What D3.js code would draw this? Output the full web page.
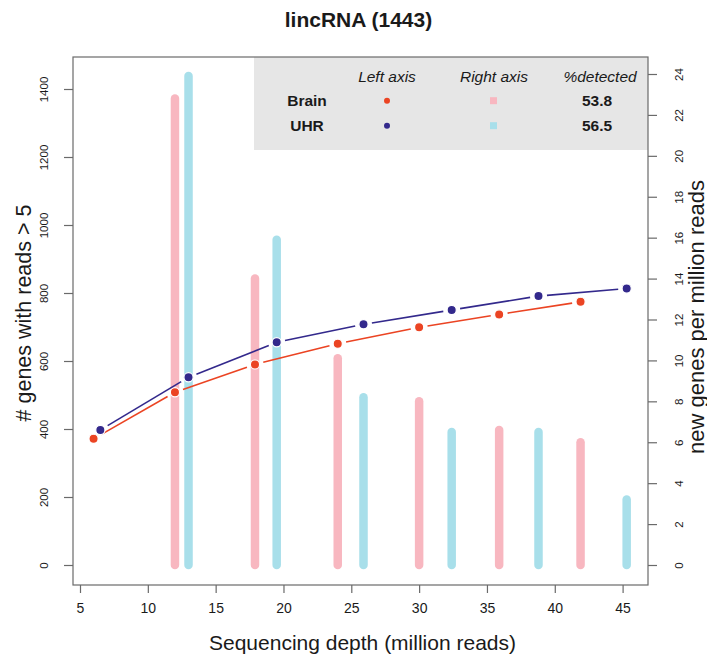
<!DOCTYPE html>
<html>
<head>
<meta charset="utf-8">
<script src="https://cdn.jsdelivr.net/npm/d3@7"></script>
<style>
  html, body { margin: 0; padding: 0; background: #fff; }
  svg text { font-family: "Liberation Sans", Arial, Helvetica, sans-serif; fill: #1a1a1a; }
</style>
</head>
<body>
<div id="chart"></div>
<script>
// Sequencing depth (million reads) at each subsample
const brainDepth = [6.0, 12.0, 17.9, 24.0, 30.0, 35.9, 41.9];
const uhrDepth   = [6.5, 13.0, 19.5, 25.9, 32.4, 38.8, 45.3];

// Left axis: number of lincRNA genes with more than 5 reads
const brainGenes = [371, 508, 590, 651, 699, 737, 774];
const uhrGenes   = [397, 552, 655, 708, 750, 791, 813];

// Right axis: new genes gained per million reads, one bar per depth step
const brainBarDepth = [12.0, 17.9, 24.0, 30.0, 35.9, 41.9];
const brainNewPerM  = [22.8, 14.0, 10.1, 8.0, 6.6, 6.0];
const uhrBarDepth   = [13.0, 19.5, 25.9, 32.4, 38.8, 45.3];
const uhrNewPerM    = [23.9, 15.9, 8.2, 6.5, 6.5, 3.2];

// Ticks
const xTicks = [5, 10, 15, 20, 25, 30, 35, 40, 45];
const leftTicks = [0, 200, 400, 600, 800, 1000, 1200, 1400];
const rightTicks = [0, 2, 4, 6, 8, 10, 12, 14, 16, 18, 20, 22, 24];

// Legend table
const samples = ["Brain", "UHR"];
const percentDetected = ["53.8", "56.5"];
const legendHeaders = ["Left axis", "Right axis", "%detected"];

const titleText = "lincRNA (1443)";
const xTitle = "Sequencing depth (million reads)";
const yLeftTitle = "# genes with reads > 5";
const yRightTitle = "new genes per million reads";

const colors = {
  brainLine: "#eb4423",
  uhrLine: "#33298c",
  brainBar: "#f8b7c0",
  uhrBar: "#a8dfea",
  legendBg: "#e6e6e6",
  axis: "#6a6a6a"
};

const W = 707, H = 660;
const box = { left: 73, right: 648, top: 57, bottom: 585 };

const x = d3.scaleLinear().domain([5, 45]).range([80, 622.6]);
const yL = d3.scaleLinear().domain([0, 1400]).range([565, 89]);
const yR = d3.scaleLinear().domain([0, 24]).range([565, 74]);

const svg = d3.select("#chart").append("svg")
  .attr("width", W).attr("height", H);

// Title
svg.append("text")
  .attr("x", (box.left + box.right) / 2 - 2).attr("y", 27)
  .attr("text-anchor", "middle")
  .attr("font-size", 21).attr("font-weight", "bold")
  .text(titleText);

// Legend panel in the top-right corner of the plot
const lg = svg.append("g");
lg.append("rect")
  .attr("x", 254).attr("y", box.top)
  .attr("width", box.right - 254).attr("height", 150 - box.top)
  .attr("fill", colors.legendBg);

const colX = [387, 494, 600];
const rowY = [100.7, 125.7];
const legendFont = 15.5;
lg.selectAll("text.hdr").data(legendHeaders).join("text")
  .attr("class", "hdr")
  .attr("x", (d, i) => colX[i]).attr("y", 76.5)
  .attr("text-anchor", "middle").attr("dominant-baseline", "central")
  .attr("font-size", legendFont).attr("font-style", "italic")
  .text(d => d);
lg.selectAll("text.name").data(samples).join("text")
  .attr("class", "name")
  .attr("x", 307).attr("y", (d, i) => rowY[i])
  .attr("text-anchor", "middle").attr("dominant-baseline", "central")
  .attr("font-size", legendFont).attr("font-weight", "bold")
  .text(d => d);
lg.selectAll("text.pct").data(percentDetected).join("text")
  .attr("class", "pct")
  .attr("x", colX[2] - 3).attr("y", (d, i) => rowY[i])
  .attr("text-anchor", "middle").attr("dominant-baseline", "central")
  .attr("font-size", legendFont).attr("font-weight", "bold")
  .text(d => d);
const lineCols = [colors.brainLine, colors.uhrLine];
const barCols = [colors.brainBar, colors.uhrBar];
lg.selectAll("circle.key").data(samples).join("circle")
  .attr("class", "key")
  .attr("cx", colX[0]).attr("cy", (d, i) => rowY[i]).attr("r", 3)
  .attr("fill", (d, i) => lineCols[i]);
lg.selectAll("rect.key").data(samples).join("rect")
  .attr("class", "key")
  .attr("x", colX[1] - 4).attr("y", (d, i) => rowY[i] - 3.5)
  .attr("width", 7).attr("height", 7)
  .attr("fill", (d, i) => barCols[i]);

// Bars (right axis), drawn as thick round-capped strokes
function drawBars(depths, values, color) {
  svg.append("g").selectAll("line").data(values).join("line")
    .attr("x1", (d, i) => x(depths[i])).attr("x2", (d, i) => x(depths[i]))
    .attr("y1", yR(0)).attr("y2", d => yR(d))
    .attr("stroke", color).attr("stroke-width", 8.5)
    .attr("stroke-linecap", "round");
}
drawBars(brainBarDepth, brainNewPerM, colors.brainBar);
drawBars(uhrBarDepth, uhrNewPerM, colors.uhrBar);

// Lines with gaps around each point, then points (left axis)
function drawSeries(depths, values, color) {
  const pts = values.map((v, i) => [x(depths[i]), yL(v)]);
  const gap = 8.5;
  const segs = d3.pairs(pts).map(([a, b]) => {
    const dx = b[0] - a[0], dy = b[1] - a[1];
    const len = Math.hypot(dx, dy);
    const ux = dx / len, uy = dy / len;
    return [a[0] + ux * gap, a[1] + uy * gap, b[0] - ux * gap, b[1] - uy * gap];
  });
  const g = svg.append("g");
  g.selectAll("line").data(segs).join("line")
    .attr("x1", d => d[0]).attr("y1", d => d[1])
    .attr("x2", d => d[2]).attr("y2", d => d[3])
    .attr("stroke", color).attr("stroke-width", 1.6);
  g.selectAll("circle").data(pts).join("circle")
    .attr("cx", d => d[0]).attr("cy", d => d[1]).attr("r", 4.6)
    .attr("fill", color).attr("stroke", "#fff").attr("stroke-width", 1.2);
}
drawSeries(brainDepth, brainGenes, colors.brainLine);
drawSeries(uhrDepth, uhrGenes, colors.uhrLine);

// Plot frame
svg.append("rect")
  .attr("x", box.left).attr("y", box.top)
  .attr("width", box.right - box.left).attr("height", box.bottom - box.top)
  .attr("fill", "none").attr("stroke", colors.axis).attr("stroke-width", 1.2);

// Bottom axis
const bx = svg.append("g").attr("transform", `translate(0,${box.bottom})`)
  .call(d3.axisBottom(x).tickValues(xTicks).tickSize(8).tickPadding(10));
bx.select(".domain").remove();
bx.selectAll(".tick line").attr("stroke", colors.axis).attr("stroke-width", 1.2);
bx.selectAll(".tick text").attr("font-size", 14).attr("font-family", null).attr("fill", "#1a1a1a");

// Left axis, labels parallel to the axis
const lx = svg.append("g").attr("transform", `translate(${box.left},0)`)
  .call(d3.axisLeft(yL).tickValues(leftTicks).tickFormat(d3.format("d")).tickSize(9));
lx.select(".domain").remove();
lx.selectAll(".tick line").attr("stroke", colors.axis).attr("stroke-width", 1.2);
lx.selectAll(".tick text")
  .attr("font-size", 11.5).attr("font-family", null).attr("fill", "#1a1a1a")
  .attr("x", null).attr("dy", null)
  .attr("text-anchor", "middle").attr("dominant-baseline", "central")
  .attr("transform", "translate(-29,0) rotate(-90)");

// Right axis
const rx = svg.append("g").attr("transform", `translate(${box.right},0)`)
  .call(d3.axisRight(yR).tickValues(rightTicks).tickFormat(d3.format("d")).tickSize(9));
rx.select(".domain").remove();
rx.selectAll(".tick line").attr("stroke", colors.axis).attr("stroke-width", 1.2);
rx.selectAll(".tick text")
  .attr("font-size", 11.5).attr("font-family", null).attr("fill", "#1a1a1a")
  .attr("x", null).attr("dy", null)
  .attr("text-anchor", "middle").attr("dominant-baseline", "central")
  .attr("transform", "translate(31,0) rotate(-90)");

// Axis titles
const midY = (box.top + box.bottom) / 2;
svg.append("text")
  .attr("x", (box.left + box.right) / 2 + 2).attr("y", 642)
  .attr("text-anchor", "middle").attr("dominant-baseline", "central")
  .attr("font-size", 21).text(xTitle);
svg.append("text")
  .attr("transform", `translate(24,${midY - 8}) rotate(-90)`)
  .attr("text-anchor", "middle").attr("dominant-baseline", "central")
  .attr("font-size", 21.5).text(yLeftTitle);
svg.append("text")
  .attr("transform", `translate(696,${midY - 4}) rotate(-90)`)
  .attr("text-anchor", "middle").attr("dominant-baseline", "central")
  .attr("font-size", 22).text(yRightTitle);
</script>
</body>
</html>
